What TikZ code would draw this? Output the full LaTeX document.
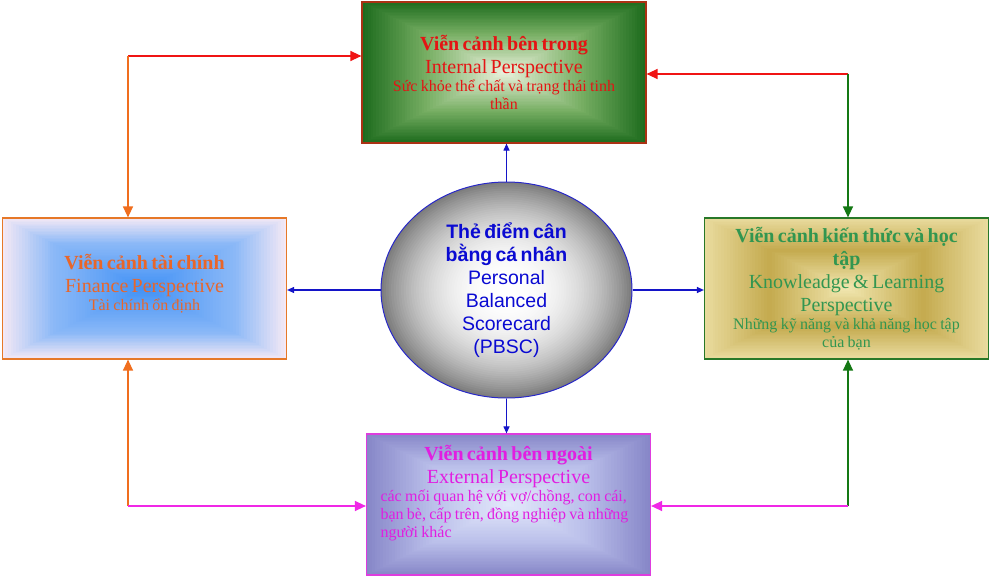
\documentclass[tikz,border=0pt]{standalone}
\usepackage{fontspec}
\setmainfont{Liberation Serif}
\newfontfamily\arialf{Liberation Sans}
\usetikzlibrary{arrows.meta,shapes.geometric}

\definecolor{tedge}{RGB}{30,108,30}
\definecolor{tmid}{RGB}{120,175,100}
\definecolor{tcen}{RGB}{236,242,222}
\definecolor{tbd}{RGB}{170,50,20}
\definecolor{ttext}{RGB}{228,20,20}

\definecolor{ledge}{RGB}{243,232,245}
\definecolor{lmid}{RGB}{140,185,247}
\definecolor{lcen}{RGB}{65,145,245}
\definecolor{lbd}{RGB}{230,120,40}
\definecolor{ltext}{RGB}{232,102,42}

\definecolor{redge}{RGB}{233,219,158}
\definecolor{rmid}{RGB}{196,170,78}
\definecolor{rcen}{RGB}{242,232,178}
\definecolor{rbd}{RGB}{40,120,40}
\definecolor{rtext}{RGB}{50,150,80}

\definecolor{bedge}{RGB}{135,135,200}
\definecolor{bmid}{RGB}{186,191,234}
\definecolor{bcen}{RGB}{228,233,251}
\definecolor{bbd}{RGB}{222,60,222}
\definecolor{btext}{RGB}{225,30,225}

\definecolor{egray}{RGB}{125,125,125}
\definecolor{ebd}{RGB}{40,40,200}
\definecolor{etext}{RGB}{10,10,210}

\definecolor{arrblue}{RGB}{20,20,200}
\definecolor{arrred}{RGB}{240,20,20}
\definecolor{arrorange}{RGB}{240,110,30}
\definecolor{arrgreen}{RGB}{20,120,20}
\definecolor{arrmag}{RGB}{240,40,230}

% #1 cx, #2 cy, #3 half width, #4 half height, #5 edge, #6 mid, #7 centre, #8 mid position
\newcommand\mygrad[8]{%
  \foreach \myI in {0,...,50}{%
    \pgfmathsetmacro\myS{1-\myI/50}%
    \pgfmathsetmacro\myU{\myI/50}%
    \pgfmathsetmacro\myP{\myU<#8 ? 100*\myU/#8 : 100*(\myU-#8)/(1-#8)}%
    \ifdim\myU pt<#8pt\relax\colorlet{gc}{#6!\myP!#5}\else\colorlet{gc}{#7!\myP!#6}\fi
    \fill[gc] ({#1-\myS*#3},{#2-\myS*#4}) rectangle ({#1+\myS*#3},{#2+\myS*#4});
  }}

% #1 cx, #2 cy, #3 rx, #4 ry
\newcommand\myellgrad[4]{%
  \foreach \myI in {0,...,50}{%
    \pgfmathsetmacro\myS{1-\myI/50}%
    \pgfmathsetmacro\myP{100*(1-\myS^2.4)}%
    \colorlet{gc}{white!\myP!egray}%
    \fill[gc] (#1,#2) ellipse [x radius={\myS*#3}, y radius={\myS*#4}];
  }}

\newcommand\myLarge{\fontsize{20}{23}\selectfont}
\newcommand\mySmall{\fontsize{16}{18}\selectfont}
\newcommand\myArial{\arialf\fontsize{19.5}{23}\selectfont}

\tikzset{
  box/.style={rectangle, minimum width=284pt, minimum height=141pt,
    inner sep=0pt, line width=1.2pt, align=center, text width=280pt},
  topbox/.style={box, draw=tbd, text=ttext},
  leftbox/.style={box, draw=lbd, text=ltext},
  rightbox/.style={box, draw=rbd, text=rtext},
  botbox/.style={box, draw=bbd, text=btext, text width=256pt},
  ellbox/.style={ellipse, minimum width=251pt, minimum height=216pt,
    inner sep=0pt, draw=ebd, line width=1pt, text=etext, align=center,
    text width=160pt},
  bluearr/.style={draw=arrblue, line width=1.1pt, -{Triangle[length=7pt,width=6pt]}},
  cornerarr/.style={line width=1.3pt, -{Triangle[length=11pt,width=10pt]}}
}

\begin{document}
\begin{tikzpicture}[x=1pt,y=-1pt]
\useasboundingbox (0,0) rectangle (991,578);
\fill[white] (0,0) rectangle (991,578);

% gradient fills (drawn first, behind the nodes)
\mygrad{504}{72.5}{142}{70.5}{tedge}{tmid}{tcen}{0.45}
\mygrad{144.5}{288.5}{142.5}{70.5}{ledge}{lmid}{lcen}{0.35}
\mygrad{846.5}{288.5}{142.5}{70.5}{redge}{rmid}{rcen}{0.45}
\mygrad{508.5}{504.5}{142.5}{70.5}{bedge}{bmid}{bcen}{0.45}
\myellgrad{506.5}{290}{125.5}{108}

\node[topbox] (top) at (504,72.5) {%
  {\myLarge\bfseries Viễn cảnh bên trong\par}%
  {\myLarge Internal Perspective\par}%
  {\mySmall Sức khỏe thể chất và trạng thái tinh\\thần\par}};

\node[leftbox] (left) at (144.5,288.5) {%
  {\myLarge\bfseries Viễn cảnh tài chính\par}%
  {\myLarge Finance Perspective\par}%
  {\mySmall Tài chính ổn định\par}\vspace{10pt}};

\node[rightbox] (right) at (846.5,288.5) {%
  {\myLarge\bfseries Viễn cảnh kiến thức và học\\tập\par}%
  {\myLarge Knowleadge \& Learning\\Perspective\par}%
  {\mySmall Những kỹ năng và khả năng học tập\\của bạn\par}};

\node[botbox] (bot) at (508.5,504.5) {%
  {\myLarge\bfseries Viễn cảnh bên ngoài\par}%
  {\myLarge External Perspective\par}%
  {\raggedright\mySmall các mối quan hệ với vợ/chồng, con cái,\\bạn bè, cấp trên, đồng nghiệp và những\\người khác\par}\vspace{22pt}};

\node[ellbox] (ell) at (506.5,290) {%
  {\myArial\bfseries Thẻ điểm cân\\bằng cá nhân\par}%
  {\myArial Personal\\Balanced\\Scorecard\\(PBSC)\par}};

\draw[bluearr] (ell.north) -- (ell.north |- top.south);
\draw[bluearr] (ell.south) -- (ell.south |- bot.north);
\draw[bluearr] (ell.west) -- (ell.west -| left.east);
\draw[bluearr] (ell.east) -- (ell.east -| right.west);

\coordinate (tl) at (128,56);
\coordinate (tr) at (848,74);
\coordinate (bl) at (128,506);
\coordinate (br) at (848,506);

\draw[cornerarr, draw=arrred, fill=arrred] (tl) -- (tl -| top.west);
\draw[cornerarr, draw=arrorange, fill=arrorange] (tl) -- (tl |- left.north);
\draw[cornerarr, draw=arrred, fill=arrred] (tr) -- (tr -| top.east);
\draw[cornerarr, draw=arrgreen, fill=arrgreen] (tr) -- (tr |- right.north);
\draw[cornerarr, draw=arrorange, fill=arrorange] (bl) -- (bl |- left.south);
\draw[cornerarr, draw=arrmag, fill=arrmag] (bl) -- (bl -| bot.west);
\draw[cornerarr, draw=arrgreen, fill=arrgreen] (br) -- (br |- right.south);
\draw[cornerarr, draw=arrmag, fill=arrmag] (br) -- (br -| bot.east);
\end{tikzpicture}
\end{document}
